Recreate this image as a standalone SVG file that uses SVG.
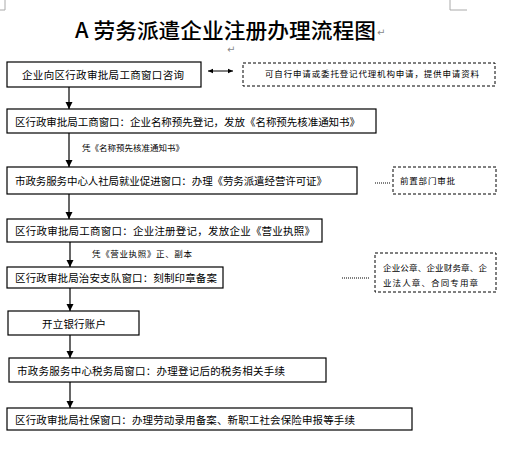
<svg xmlns="http://www.w3.org/2000/svg" width="515" height="455" viewBox="0 0 515 455">
<style>
.box{fill:#fff;stroke:#000;stroke-width:1.2}
.dbox{fill:#fff;stroke:#000;stroke-width:1;stroke-dasharray:3,2}
.t{font-family:"Noto Sans CJK SC","Liberation Sans",sans-serif;font-size:10.5px;fill:#000;dominant-baseline:central}
.s{font-family:"Noto Sans CJK SC","Liberation Sans",sans-serif;font-size:8.5px;fill:#000;dominant-baseline:central}
.ln{stroke:#000;stroke-width:1.2;fill:none}
.dot{stroke:#000;stroke-width:1;stroke-dasharray:1,1;fill:none}
.mk{font-family:"DejaVu Sans",sans-serif;font-size:10px;fill:#888}
</style>
<defs>
<marker id="ah" markerWidth="8" markerHeight="8" refX="7" refY="4" orient="auto" markerUnits="userSpaceOnUse"><path d="M0,0.5 L7,4 L0,7.5 Z" fill="#000"/></marker>
<marker id="oa" markerWidth="6" markerHeight="6" refX="5" refY="3" orient="auto-start-reverse" markerUnits="userSpaceOnUse"><path d="M0,0.8 L5,3 L0,5.2 Z" fill="#000"/></marker>
</defs>
<g id="page-marks" stroke="#aaa" stroke-width="1" fill="none">
<path d="M5,0 V10 H0"/>
<path d="M450,0 V10 H467"/>
</g>
<g id="title">
<text x="75" y="29" style="font-family:'Noto Sans CJK SC','Liberation Sans',sans-serif;font-size:21px;font-weight:500;dominant-baseline:central" textLength="301" lengthAdjust="spacingAndGlyphs">A 劳务派遣企业注册办理流程图</text>
<text class="mk" x="377" y="36">↵</text>
<text class="mk" x="227" y="53">↵</text>
</g>
<g id="connectors">
<line class="ln" x1="69" y1="87" x2="69" y2="109" marker-end="url(#ah)"/>
<line class="ln" x1="69" y1="133" x2="69" y2="167" marker-end="url(#ah)"/>
<line class="ln" x1="69" y1="194" x2="69" y2="219" marker-end="url(#ah)"/>
<line class="ln" x1="70" y1="242" x2="70" y2="267" marker-end="url(#ah)"/>
<line class="ln" x1="70" y1="288" x2="70" y2="311" marker-end="url(#ah)"/>
<line class="ln" x1="70" y1="335" x2="70" y2="358" marker-end="url(#ah)"/>
<line class="ln" x1="70" y1="382" x2="70" y2="408" marker-end="url(#ah)"/>
<line stroke="#000" stroke-width="1" x1="208" y1="71" x2="233" y2="71" marker-start="url(#oa)" marker-end="url(#oa)"/>
<line class="dot" x1="375" y1="183" x2="391" y2="183"/>
<line class="dot" x1="342" y1="278" x2="369" y2="278"/>
<text class="s" x="82" y="147">凭《名称预先核准通知书》</text>
<text class="s" x="92" y="253" textLength="100" lengthAdjust="spacing">凭《营业执照》正、副本</text>
</g>
<g id="n1">
<rect class="box" x="7" y="62" width="194" height="25"/>
<text class="t" x="22" y="74.5" textLength="162" lengthAdjust="spacing">企业向区行政审批局工商窗口咨询</text>
</g>
<g id="d1">
<rect class="dbox" x="243" y="63" width="252" height="23"/>
<text class="s" x="265" y="73" textLength="214" lengthAdjust="spacing">可自行申请或委托登记代理机构申请，提供申请资料</text>
</g>
<g id="n2">
<rect class="box" x="7" y="109" width="369" height="24"/>
<text class="t" x="15" y="121.5" textLength="345" lengthAdjust="spacing">区行政审批局工商窗口：企业名称预先登记，发放《名称预先核准通知书》</text>
</g>
<g id="n3">
<rect class="box" x="7" y="167" width="350" height="27"/>
<text class="t" x="15" y="180" textLength="312" lengthAdjust="spacing">市政务服务中心人社局就业促进窗口：办理《劳务派遣经营许可证》</text>
</g>
<g id="d2">
<rect class="dbox" x="393" y="167" width="103" height="27"/>
<text class="s" x="400" y="180" textLength="55" lengthAdjust="spacing">前置部门审批</text>
</g>
<g id="n4">
<rect class="box" x="7" y="219" width="315" height="23"/>
<text class="t" x="15" y="230.5" textLength="300" lengthAdjust="spacing">区行政审批局工商窗口：企业注册登记，发放企业《营业执照》</text>
</g>
<g id="n5">
<rect class="box" x="7" y="267" width="216" height="21"/>
<text class="t" x="15" y="277" textLength="202" lengthAdjust="spacing">区行政审批局治安支队窗口：刻制印章备案</text>
</g>
<g id="d3">
<rect class="dbox" x="375" y="253" width="121" height="39"/>
<text class="s" x="383" y="266.5" textLength="104" lengthAdjust="spacing">企业公章、企业财务章、企</text>
<text class="s" x="383" y="281.5" textLength="95" lengthAdjust="spacing">业法人章、合同专用章</text>
</g>
<g id="n6">
<rect class="box" x="8" y="311" width="131" height="24"/>
<text class="t" x="42" y="323" textLength="64" lengthAdjust="spacing">开立银行账户</text>
</g>
<g id="n7">
<rect class="box" x="9" y="358" width="317" height="24"/>
<text class="t" x="17" y="370.5" textLength="268" lengthAdjust="spacing">市政务服务中心税务局窗口：办理登记后的税务相关手续</text>
</g>
<g id="n8">
<rect class="box" x="7" y="408" width="405" height="22"/>
<text class="t" x="15" y="419" textLength="340" lengthAdjust="spacing">区行政审批局社保窗口：办理劳动录用备案、新职工社会保险申报等手续</text>
</g>
</svg>
